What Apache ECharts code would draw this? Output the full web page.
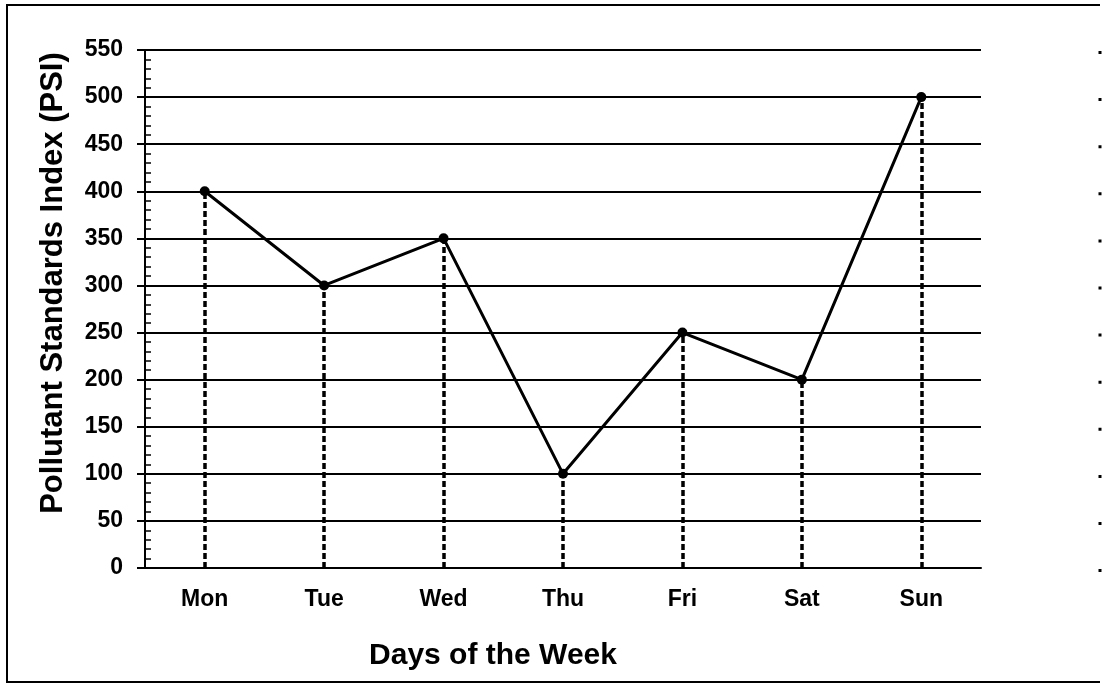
<!DOCTYPE html>
<html>
<head>
<meta charset="utf-8">
<title>Pollutant Standards Index</title>
<script src="https://cdn.jsdelivr.net/npm/echarts@6/dist/echarts.min.js"></script>
<style>
  html, body { margin: 0; padding: 0; background: #fff; }
  #main { width: 1109px; height: 686px; }
</style>
</head>
<body>
<div id="main"></div>
<script>
// data
const days = ["Mon", "Tue", "Wed", "Thu", "Fri", "Sat", "Sun"];
const psi = [400, 300, 350, 100, 250, 200, 500];
const yMin = 0;
const yMax = 550;
const yStep = 50;

(function () {
  const myChart = echarts.init(document.getElementById("main"));

  // dashed drop lines from each point down to the x axis
  const dropLines = days.map(function (d, i) {
    return [{ coord: [d, yMin] }, { coord: [d, psi[i]] }];
  });

  const option = {
    animation: false,
    backgroundColor: "#fff",
    textStyle: { fontFamily: "Liberation Sans, Arial, sans-serif" },
    title: {
      text: "Days of the Week",
      left: 488,
      top: 636,
      textAlign: "center",
      textStyle: {
        fontSize: 30,
        fontWeight: "bold",
        color: "#000",
        fontFamily: "Liberation Sans, Arial, sans-serif"
      }
    },
    grid: {
      left: 145,
      right: 128,
      top: 50,
      bottom: 118
    },
    xAxis: {
      type: "category",
      data: days,
      boundaryGap: true,
      axisLine: { lineStyle: { color: "#000", width: 2 } },
      axisTick: { show: false },
      axisLabel: {
        color: "#000",
        fontSize: 23,
        fontWeight: "bold",
        margin: 20
      }
    },
    yAxis: {
      type: "value",
      min: yMin,
      max: yMax,
      interval: yStep,
      name: "Pollutant Standards Index (PSI)",
      nameLocation: "middle",
      nameGap: 76,
      nameTextStyle: {
        fontSize: 31,
        fontWeight: "bold",
        color: "#000",
        padding: [0, 0, 0, 52]
      },
      axisLine: { show: true, lineStyle: { color: "#000", width: 2 } },
      axisTick: { show: true, length: 8, lineStyle: { color: "#000", width: 2 } },
      minorTick: { show: true, splitNumber: 5, length: -6, lineStyle: { color: "#000", width: 1.5 } },
      axisLabel: {
        color: "#000",
        fontSize: 23,
        fontWeight: "bold",
        margin: 22
      },
      splitLine: { lineStyle: { color: "#000", width: 2 } }
    },
    graphic: [
      {
        type: "polyline",
        shape: { points: [[1100, 5], [7, 5], [7, 682], [1100, 682]] },
        style: { stroke: "#000", lineWidth: 2, fill: null }
      },
      {
        type: "line",
        shape: { x1: 1100, y1: 51, x2: 1100, y2: 575 },
        style: { stroke: "#000", lineWidth: 3, lineDash: [3, 44.1] }
      }
    ],
    series: [
      {
        name: "PSI",
        type: "line",
        data: psi,
        symbol: "circle",
        symbolSize: 10,
        itemStyle: { color: "#000" },
        lineStyle: { color: "#000", width: 3 },
        markLine: {
          silent: true,
          symbol: ["none", "none"],
          label: { show: false },
          lineStyle: { color: "#000", width: 3.5, type: [6, 3] },
          data: dropLines
        },
        z: 3
      }
    ]
  };

  myChart.setOption(option);

  window.addEventListener("resize", function () {
    myChart.resize();
  });
})();
</script>
</body>
</html>
